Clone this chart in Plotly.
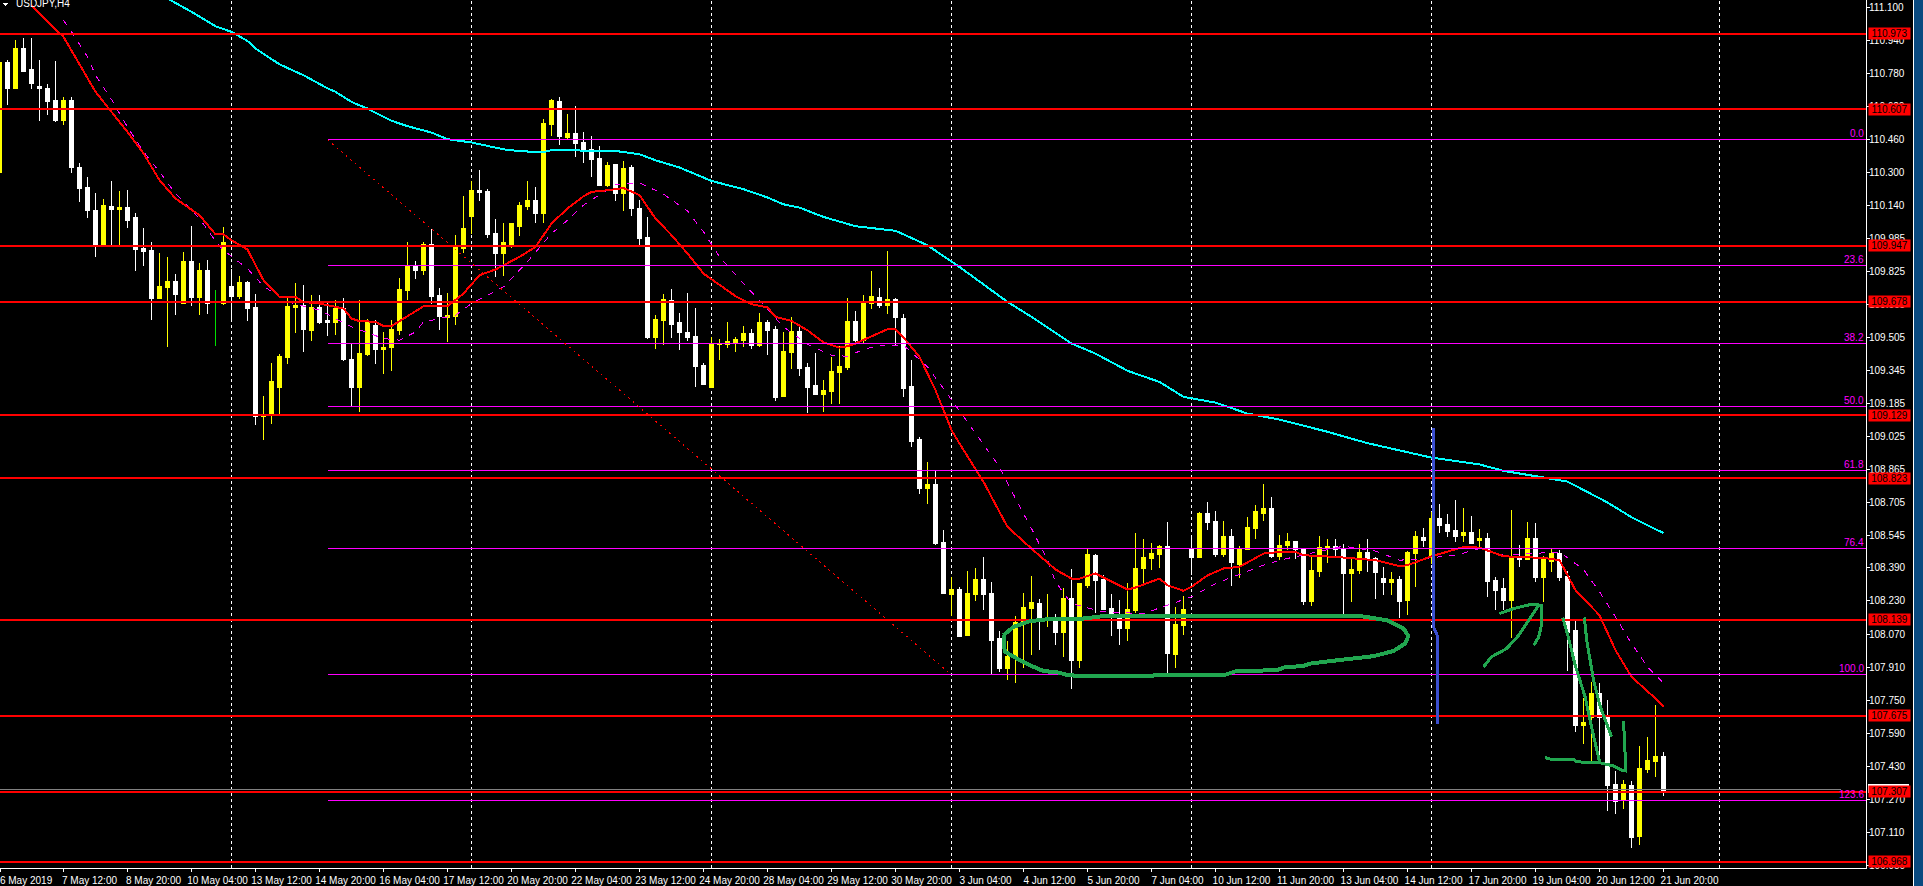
import plotly.graph_objects as go

# ---------- candles (bar index = position in the lists) ----------
opens = [110.300,110.835,110.706,110.903,110.801,110.719,110.709,110.651,110.555,110.651,
110.327,110.231,110.120,109.950,110.139,110.124,110.134,110.086,109.936,109.926,
109.694,109.747,109.776,109.670,109.873,109.699,109.829,109.675,109.670,109.752,
109.704,109.771,109.650,109.123,109.128,109.264,109.409,109.650,109.660,109.539,
109.650,109.588,109.578,109.646,109.399,109.264,109.423,109.563,109.447,109.457,
109.539,109.733,109.853,109.829,109.955,109.708,109.602,109.607,109.936,110.090,
110.216,110.211,110.008,109.912,109.955,110.042,110.139,110.168,110.105,110.535,
110.647,110.473,110.492,110.448,110.415,110.371,110.240,110.342,110.202,110.327,
110.129,109.989,109.505,109.588,109.684,109.578,109.530,109.510,109.370,109.264,
109.472,109.472,109.481,109.491,109.525,109.467,109.578,109.544,109.220,109.433,
109.534,109.360,109.273,109.230,109.244,109.336,109.360,109.583,109.491,109.670,
109.699,109.660,109.689,109.597,109.268,109.012,108.775,108.795,108.514,108.263,
108.287,108.064,108.263,108.335,108.267,108.050,107.905,107.963,108.122,108.195,
108.219,108.140,108.132,108.079,108.243,107.943,108.306,108.451,108.335,108.195,
108.151,108.098,108.185,108.388,108.437,108.456,108.495,107.972,108.113,108.480,
108.442,108.654,108.616,108.456,108.543,108.408,108.480,108.582,108.654,108.679,
108.446,108.500,108.519,108.485,108.229,108.374,108.485,108.495,108.485,108.364,
108.379,108.466,108.437,108.340,108.321,108.335,108.234,108.461,108.538,108.451,
108.630,108.601,108.572,108.548,108.562,108.524,108.533,108.330,108.292,108.234,
108.446,108.432,108.533,108.345,108.422,108.461,108.350,108.089,107.629,107.668,
107.784,107.673,107.344,107.271,107.339,107.092,107.416,107.455,107.479]

highs = [110.845,110.845,110.942,110.951,110.951,110.848,110.732,110.840,110.666,110.666,
110.350,110.282,110.202,110.173,110.260,110.211,110.216,110.105,110.032,109.965,
109.912,109.892,109.810,109.916,110.042,109.863,109.878,109.733,110.037,109.834,
109.800,109.776,109.713,109.220,109.380,109.423,109.699,109.767,109.757,109.708,
109.708,109.680,109.684,109.694,109.472,109.684,109.592,109.588,109.530,109.588,
109.791,109.965,109.873,109.965,110.028,109.742,109.718,109.999,110.187,110.260,
110.313,110.221,110.076,110.057,110.057,110.158,110.260,110.231,110.560,110.656,
110.666,110.584,110.622,110.497,110.477,110.429,110.352,110.342,110.356,110.337,
110.168,110.086,109.612,109.713,109.737,109.621,109.718,109.646,109.380,109.505,
109.496,109.578,109.505,109.559,109.544,109.621,109.588,109.559,109.530,109.602,
109.559,109.380,109.428,109.297,109.409,109.462,109.694,109.631,109.708,109.825,
109.742,109.921,109.694,109.617,109.394,109.022,108.901,108.857,108.572,108.345,
108.296,108.374,108.388,108.442,108.321,108.084,108.035,108.156,108.267,108.350,
108.238,108.263,108.166,108.292,108.383,108.316,108.480,108.456,108.355,108.263,
108.234,108.316,108.558,108.529,108.509,108.500,108.611,108.200,108.253,108.548,
108.659,108.707,108.664,108.616,108.577,108.495,108.635,108.693,108.795,108.732,
108.548,108.558,108.519,108.485,108.442,108.543,108.529,108.529,108.504,108.437,
108.504,108.529,108.442,108.393,108.369,108.350,108.471,108.567,108.582,108.659,
108.698,108.649,108.717,108.679,108.640,108.577,108.558,108.345,108.340,108.669,
108.500,108.611,108.606,108.446,108.485,108.475,108.374,108.137,107.760,107.837,
107.832,107.750,107.407,107.363,107.358,107.528,107.571,107.726,107.499]

lows = [110.300,110.627,110.706,110.787,110.706,110.552,110.579,110.545,110.531,110.300,
110.158,110.081,109.892,109.950,109.941,109.950,110.032,109.825,109.849,109.588,
109.689,109.457,109.612,109.670,109.655,109.612,109.617,109.462,109.660,109.578,
109.689,109.583,109.080,109.007,109.085,109.133,109.375,109.525,109.433,109.486,
109.568,109.510,109.515,109.389,109.167,109.143,109.414,109.375,109.326,109.341,
109.515,109.684,109.786,109.805,109.665,109.539,109.481,109.563,109.912,110.003,
110.163,109.984,109.795,109.800,109.936,109.994,110.120,110.057,110.057,110.477,
110.434,110.458,110.376,110.350,110.279,110.236,110.231,110.163,110.115,110.090,
109.941,109.496,109.447,109.467,109.501,109.443,109.486,109.264,109.273,109.264,
109.394,109.452,109.433,109.457,109.447,109.457,109.418,109.196,109.220,109.351,
109.317,109.138,109.225,109.143,109.181,109.181,109.346,109.467,109.478,109.641,
109.646,109.617,109.462,109.215,108.973,108.746,108.698,108.500,108.267,108.156,
108.060,108.064,108.229,108.185,107.871,107.885,107.847,107.832,107.905,107.968,
107.992,108.103,108.016,107.958,107.803,107.905,108.292,108.171,108.185,108.060,
108.016,108.035,108.171,108.311,108.379,108.388,107.876,107.905,108.064,108.355,
108.442,108.572,108.442,108.442,108.301,108.340,108.475,108.529,108.616,108.437,
108.427,108.475,108.432,108.209,108.205,108.345,108.412,108.442,108.166,108.224,
108.359,108.369,108.238,108.258,108.258,108.147,108.161,108.296,108.490,108.411,
108.558,108.538,108.514,108.514,108.504,108.485,108.248,108.185,108.185,108.050,
108.393,108.427,108.321,108.224,108.369,108.325,107.890,107.595,107.537,107.455,
107.460,107.213,107.199,107.223,107.034,107.049,107.397,107.378,107.286]

closes = [110.835,110.706,110.903,110.792,110.730,110.706,110.647,110.555,110.651,110.324,
110.223,110.116,109.950,110.144,110.124,110.134,110.071,109.931,109.921,109.694,
109.752,109.776,109.713,109.873,109.699,109.829,109.670,109.677,109.965,109.704,
109.771,109.646,109.123,109.133,109.293,109.414,109.655,109.660,109.544,109.650,
109.578,109.578,109.646,109.399,109.264,109.428,109.578,109.447,109.457,109.544,
109.737,109.849,109.829,109.955,109.704,109.607,109.612,109.941,110.032,110.216,
110.207,110.003,109.912,109.965,110.057,110.144,110.168,110.105,110.540,110.651,
110.477,110.492,110.444,110.410,110.366,110.240,110.337,110.202,110.323,110.129,
109.984,109.505,109.592,109.689,109.568,109.530,109.505,109.365,109.278,109.476,
109.476,109.486,109.496,109.525,109.467,109.578,109.539,109.215,109.438,109.534,
109.355,109.264,109.230,109.249,109.341,109.365,109.583,109.491,109.680,109.704,
109.660,109.689,109.602,109.259,109.003,108.775,108.795,108.509,108.267,108.287,
108.060,108.267,108.335,108.263,108.040,107.905,107.963,108.127,108.200,108.224,
108.137,108.150,108.079,108.243,107.943,108.316,108.456,108.330,108.190,108.166,
108.098,108.190,108.388,108.442,108.461,108.495,107.977,108.118,108.190,108.442,
108.654,108.611,108.456,108.543,108.417,108.480,108.587,108.664,108.679,108.446,
108.500,108.519,108.480,108.229,108.379,108.490,108.495,108.480,108.364,108.383,
108.466,108.437,108.369,108.321,108.335,108.229,108.466,108.543,108.524,108.630,
108.596,108.567,108.543,108.562,108.509,108.533,108.325,108.282,108.234,108.446,
108.432,108.533,108.345,108.432,108.461,108.345,108.079,107.629,107.644,107.784,
107.668,107.339,107.262,107.344,107.088,107.421,107.460,107.479,107.315]

doji_bars = [27]          # the single green doji

# ---------- moving averages ----------
red_ma_bars = [4,6,8,12,16,18,20,22,25,27,28,29,31,33,35,37,38,40,42,43,44,45,47,48,49,53,56,58,60,62,65,67,69,71,73,74,76,78,80,82,84,86,88,90,92,94,96,97,99,101,103,105,106,107,111,112,113,115,117,119,120,123,126,129,132,134,135,137,139,141,142,145,146,148,149,151,153,155,158,160,162,163,167,172,175,176,179,183,185,188,193,195,197,200,202,204,207,208]
red_ma = [111.111,111.030,110.958,110.692,110.498,110.394,110.265,110.176,110.095,110.003,110.003,109.974,109.929,109.781,109.700,109.700,109.676,109.668,109.652,109.644,109.596,109.583,109.580,109.559,109.559,109.655,109.655,109.717,109.805,109.833,109.894,109.942,110.055,110.128,110.187,110.208,110.216,110.227,110.192,110.079,109.999,109.910,109.813,109.757,109.704,109.665,109.649,109.604,109.584,109.539,109.480,109.455,109.462,109.475,109.544,109.544,109.504,109.410,109.249,109.056,108.991,108.806,108.588,108.483,108.382,108.338,108.338,108.363,108.322,108.285,108.295,108.338,108.306,108.279,108.298,108.354,108.387,108.395,108.459,108.467,108.467,108.451,108.443,108.427,108.398,108.403,108.446,108.491,108.488,108.446,108.438,108.427,108.282,108.161,107.992,107.863,107.758,107.718]

cyan_ma_bars = [21,24,27,29,31,32,35,38,41,42,44,46,49,51,54,56,59,63,65,68,69,77,80,82,85,89,93,96,98,100,103,106,107,112,116,120,123,126,129,134,137,141,145,148,152,156,160,166,171,176,179,185,188,193,196,201,204,208]
cyan_ma = [111.143,111.079,111.009,110.982,110.938,110.901,110.825,110.772,110.709,110.692,110.643,110.611,110.552,110.526,110.495,110.463,110.447,110.414,110.405,110.400,110.410,110.406,110.390,110.361,110.326,110.261,110.221,110.181,110.148,110.132,110.087,110.052,110.042,110.020,109.950,109.845,109.760,109.676,109.604,109.475,109.426,109.343,109.289,109.217,109.189,109.136,109.107,109.048,108.993,108.947,108.923,108.890,108.859,108.827,108.807,108.706,108.635,108.558]

magenta_ma_bars = [8,9,11,12,14,16,18,20,22,25,27,28,31,33,36,40,44,48,50,52,53,57,59,63,66,69,71,73,77,80,83,86,88,90,93,95,98,101,104,106,108,110,113,116,118,121,123,125,127,129,131,132,134,138,143,147,149,152,155,158,160,168,172,175,178,182,185,188,195,198,200,202,204,206,208]
magenta_ma = [111.038,110.982,110.861,110.772,110.655,110.522,110.402,110.305,110.200,110.079,109.971,109.926,109.837,109.752,109.676,109.636,109.555,109.499,109.491,109.531,109.579,109.612,109.668,109.749,109.870,110.007,110.071,110.144,110.244,110.252,110.197,110.116,110.015,109.894,109.765,109.684,109.555,109.471,109.418,109.413,109.446,109.467,109.467,109.362,109.257,109.096,108.991,108.878,108.725,108.580,108.427,108.322,108.217,108.177,108.169,108.225,108.250,108.314,108.358,108.403,108.427,108.495,108.471,108.427,108.435,108.451,108.483,108.451,108.467,108.382,108.274,108.153,108.024,107.911,107.834]

# ---------- levels ----------
red_levels = [110.973,110.607,109.947,109.678,109.129,108.823,108.139,107.675,107.307,106.968]
fib_names = ["0.0","23.6","38.2","50.0","61.8","76.4","100.0","123.6"]
fib_levels = [110.460,109.851,109.474,109.169,108.860,108.482,107.873,107.264]
fib_start_bar = 41
trend_bars = [41,119]
trend_prices = [110.460,107.873]
bid_price = 107.317
bid_end_bar = 230.2
week_bars = [29,59,89,119,149,179,215]

# ---------- axes ----------
x_tick_bars = [0.07,8,16,24,32,40,48,56,64,72,80,88,96,104,112,120,128,136,144,152,160,168,176,184,192,200,208]
x_tick_labels = ["6 May 2019","7 May 12:00","8 May 20:00","10 May 04:00","13 May 12:00","14 May 20:00","16 May 04:00","17 May 12:00","20 May 20:00","22 May 04:00","23 May 12:00","24 May 20:00","28 May 04:00","29 May 12:00","30 May 20:00","3 Jun 04:00","4 Jun 12:00","5 Jun 20:00","7 Jun 04:00","10 Jun 12:00","11 Jun 20:00","13 Jun 04:00","14 Jun 12:00","17 Jun 20:00","19 Jun 04:00","20 Jun 12:00","21 Jun 20:00"]
y_ticks = [111.100,110.940,110.780,110.620,110.460,110.300,110.140,109.985,109.825,109.665,109.505,109.345,109.185,109.025,108.865,108.705,108.545,108.390,108.230,108.070,107.910,107.750,107.590,107.430,107.270,107.110,106.950]

# ---------- hand-drawn strokes (bar, price) ----------
oval_bars = [125.5,126.75,128.8,131.75,135.5,138.4,157.6,169.9,173.4,175.5,176.1,175.7,174.25,171.75,167.2,163.8,163,160.5,159.7,157.6,156.7,154.6,153.3,144.6,144,135.1,133.4,132.2,130.5,128.8,127.2,125.7,125.5,125.5]
oval_prices = [108.064,108.105,108.132,108.145,108.145,108.159,108.158,108.158,108.137,108.097,108.060,108.024,107.988,107.963,107.943,107.927,107.916,107.908,107.895,107.892,107.895,107.891,107.874,107.874,107.866,107.866,107.873,107.885,107.891,107.919,107.951,107.984,108.024,108.064]
arrow_shaft_bars = [185.5,186.5,188.4,189.9,192.4]
arrow_shaft_prices = [107.911,107.960,108.000,108.064,108.209]
arrow_head_bars = [187.5,189.25,191.5,192.8,192.8,192.4,191.8]
arrow_head_prices = [108.169,108.193,108.214,108.209,108.121,108.056,108.016]
drop_a_bars = [195.4,196.1,196.9,198.2,199,200]
drop_a_prices = [108.150,108.056,107.927,107.766,107.621,107.452]
drop_b_bars = [198.1,198.4,199.25,200.1,201.5]
drop_b_prices = [108.150,108.040,107.847,107.718,107.573]
hook_bars = [193.2,194,196.75,197.2,200.1,201.75,202.8,203.3,203]
hook_prices = [107.473,107.463,107.463,107.452,107.447,107.432,107.411,107.408,107.650]
blue_bars = [179.2,179.25,179.7,179.7]
blue_prices = [109.064,108.105,108.064,107.634]

# ---------- layout constants ----------
W, H = 1923, 886
PLOT_R, PLOT_B = 1866, 868
X_RANGE = [0.0625, 233.31]
Y_RANGE = [106.9386, 111.136]
RED, YEL, WHT = "#ff0000", "#ffff00", "#ffffff"
MAG, CYAN, GREEN, BLUE = "#ff00ff", "#00ffff", "#21a64f", "#3b4fd0"
FONT = "Liberation Sans, sans-serif"

fig = go.Figure()

bars = [i for i in range(len(opens)) if i not in doji_bars]
def pick(v, idx):
    return [v[i] for i in idx]

fig.add_trace(go.Candlestick(
    x=bars, open=pick(opens, bars), high=pick(highs, bars),
    low=pick(lows, bars), close=pick(closes, bars),
    increasing=dict(line=dict(color=YEL, width=1), fillcolor=YEL),
    decreasing=dict(line=dict(color=WHT, width=1), fillcolor=WHT),
    whiskerwidth=0, hoverinfo="skip"))
fig.add_trace(go.Candlestick(
    x=doji_bars, open=pick(opens, doji_bars), high=pick(highs, doji_bars),
    low=pick(lows, doji_bars), close=pick(closes, doji_bars),
    increasing=dict(line=dict(color="#00e000", width=1), fillcolor="#00e000"),
    decreasing=dict(line=dict(color="#00e000", width=1), fillcolor="#00e000"),
    whiskerwidth=0, hoverinfo="skip"))

def line(x, y, color, width, dash=None):
    fig.add_trace(go.Scatter(x=x, y=y, mode="lines", hoverinfo="skip",
                             line=dict(color=color, width=width, dash=dash)))

line(magenta_ma_bars, magenta_ma, MAG, 1, "6px,7px")
line(cyan_ma_bars, cyan_ma, CYAN, 2)
line(red_ma_bars, red_ma, RED, 2)
for lv in fib_levels:
    line([fib_start_bar, X_RANGE[1]], [lv, lv], MAG, 1)
line(trend_bars, trend_prices, RED, 1, "2px,4px")
line([X_RANGE[0], bid_end_bar], [bid_price, bid_price], "#808080", 1)
for lv in red_levels:
    line(X_RANGE, [lv, lv], RED, 2)
line(oval_bars, oval_prices, GREEN, 4)
for xs, ys in [(arrow_shaft_bars, arrow_shaft_prices),
               (arrow_head_bars, arrow_head_prices), (drop_a_bars, drop_a_prices),
               (drop_b_bars, drop_b_prices), (hook_bars, hook_prices)]:
    line(xs, ys, GREEN, 3)
line(blue_bars, blue_prices, BLUE, 3)

shapes = [dict(type="line", xref="x", yref="paper", x0=b, x1=b, y0=0, y1=1,
               line=dict(color=WHT, width=1, dash="3px,3px"), layer="below")
          for b in week_bars]
# window frame: white rule and blue strip on the far right
shapes.append(dict(type="rect", xref="paper", yref="paper",
                   x0=1913.5/PLOT_R, x1=W/PLOT_R, y0=-1, y1=2,
                   fillcolor="#0a4a80", line=dict(width=0), layer="above"))
shapes.append(dict(type="rect", xref="paper", yref="paper",
                   x0=1912.5/PLOT_R, x1=1913.5/PLOT_R, y0=-1, y1=2,
                   fillcolor=WHT, line=dict(width=0), layer="above"))
# white bid tag peeking above the red 107.307 tag
shapes.append(dict(type="rect", xref="paper", yref="y",
                   x0=1868/PLOT_R, x1=1909/PLOT_R, y0=107.30, y1=107.344,
                   fillcolor=WHT, line=dict(width=0), layer="above"))
# chart-menu triangle next to the symbol name
shapes.append(dict(type="path", xref="paper", yref="paper",
                   path=f"M {3/PLOT_R} {1-3/PLOT_B} L {8.5/PLOT_R} {1-3/PLOT_B} L {5.7/PLOT_R} {1-6/PLOT_B} Z",
                   fillcolor=WHT, line=dict(width=0), layer="above"))

ann = [dict(xref="paper", yref="y", x=1, xshift=2, xanchor="left", y=lv,
            yanchor="middle", text=f"{lv:.3f}", showarrow=False,
            bgcolor=RED, width=41, height=11, borderpad=0, align="center",
            font=dict(family=FONT, size=10, color="#000000"))
       for lv in red_levels]
ann += [dict(xref="paper", yref="y", x=1, xshift=-1, xanchor="right", y=lv,
             yanchor="bottom", yshift=0, text=n, showarrow=False, borderpad=0,
             font=dict(family=FONT, size=10, color="#ff00ff"))
        for n, lv in zip(fib_names, fib_levels)]
ann.append(dict(xref="paper", yref="paper", x=15/PLOT_R, xanchor="left", y=1,
                yanchor="middle", yshift=-3, text="USDJPY,H4", showarrow=False,
                borderpad=0, font=dict(family=FONT, size=10, color=WHT)))

fig.update_layout(
    width=W, height=H, showlegend=False, autosize=False,
    paper_bgcolor="#000000", plot_bgcolor="#000000",
    margin=dict(l=0, r=W-PLOT_R, t=0, b=H-PLOT_B, pad=0),
    boxgap=0.5, boxgroupgap=0, hovermode=False,
    shapes=shapes, annotations=ann,
    xaxis=dict(range=X_RANGE, rangeslider=dict(visible=False), showgrid=False,
               zeroline=False, tickmode="array", tickvals=x_tick_bars,
               ticktext=x_tick_labels, ticks="outside", ticklen=3, tickcolor=WHT,
               tickwidth=1, tickangle=0, showline=True, linecolor=WHT, linewidth=1,
               ticklabelshift=26, ticklabeloverflow="allow", ticklabelstandoff=0,
               tickfont=dict(family=FONT, size=10, color=WHT)),
    yaxis=dict(range=Y_RANGE, side="right", showgrid=False, zeroline=False,
               tickmode="array", tickvals=y_ticks,
               ticktext=[f"{v:.3f}" for v in y_ticks], ticks="outside", ticklen=3,
               tickcolor=WHT, tickwidth=1, showline=True, linecolor=WHT, linewidth=1,
               ticklabelstandoff=-3,
               tickfont=dict(family=FONT, size=10, color=WHT)),
)

crisp = ("document.body.style.margin='0';document.body.style.overflow='hidden';"
         "var s=document.createElement('style');"
         "s.textContent='.main-svg path{shape-rendering:crispEdges}';"
         "document.head.appendChild(s);")
fig.write_html("out.html", config=dict(displayModeBar=False), post_script=crisp)
